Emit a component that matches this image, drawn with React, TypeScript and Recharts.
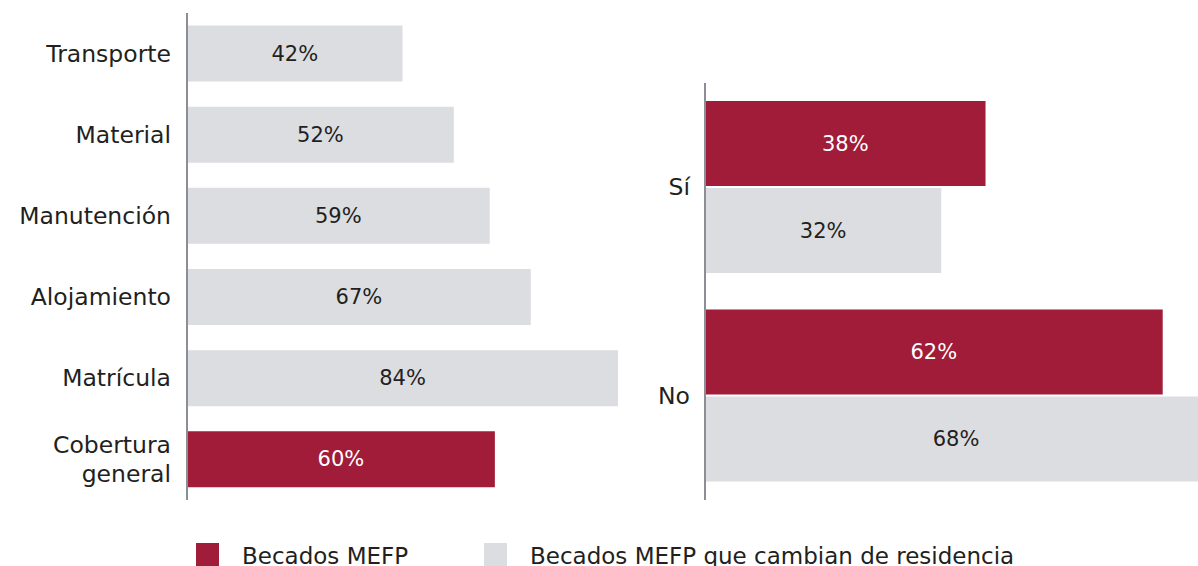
import React from "react";
import { BarChart, Bar, XAxis, YAxis, Cell, LabelList } from "recharts";

const RED = "#a01c38";
const GREY = "#dcdde1";
const AXIS = "#8b8d97";
const TEXT = "#231f20";
const FONT = "'DejaVu Sans', sans-serif";

const costCategories = ["Transporte", "Material", "Manutención", "Alojamiento", "Matrícula", "Cobertura general"];
const costValues = [42, 52, 59, 67, 84, 60];
const costHighlight = [false, false, false, false, false, true];

const residenceCategories = ["Sí", "No"];
const becadosValues = [38, 62];
const cambianValues = [32, 68];

const seriesNames = ["Becados MEFP", "Becados MEFP que cambian de residencia"];
const seriesColors = [RED, GREY];

const leftData = costCategories.map((name, i) => ({ name, value: costValues[i], hl: costHighlight[i] }));
const rightData = residenceCategories.map((name, i) => ({ name, becados: becadosValues[i], cambian: cambianValues[i] }));

const CatTick = (props: any) => {
  const { x, y, payload } = props;
  const words = String(payload.value).split(" ");
  const lines = words.length > 1 && String(payload.value).length > 12 ? words : [payload.value];
  const lh = 29;
  const start = -((lines.length - 1) * lh) / 2;
  return (
    <text x={x} y={y} textAnchor="end" fontFamily={FONT} fontSize={23.5} fill={TEXT}>
      {lines.map((l: string, i: number) => (
        <tspan key={i} x={x} dy={i === 0 ? start + 8 : lh}>
          {l}
        </tspan>
      ))}
    </text>
  );
};

const makeLabel = (colorFn: (index: number) => string) => (props: any) => {
  const { x, y, width, height, value, index } = props;
  return (
    <text
      x={x + width / 2}
      y={y + height / 2}
      dy={7}
      textAnchor="middle"
      fontFamily={FONT}
      fontSize={21}
      fill={colorFn(index)}
    >
      {value}%
    </text>
  );
};

export default function App() {
  return (
    <div style={{ position: "fixed", left: 0, top: 0, width: 1198, height: 566, overflow: "hidden", background: "#fff" }}>
      <div style={{ position: "absolute", left: 0, top: 0 }}>
        <BarChart
          width={620}
          height={500}
          data={leftData}
          layout="vertical"
          margin={{ top: 13, right: 2, bottom: 0, left: 0 }}
          barCategoryGap={12.5}
        >
          <XAxis type="number" domain={[0, 84]} hide />
          <YAxis
            type="category"
            dataKey="name"
            width={187}
            axisLine={{ stroke: AXIS, strokeWidth: 2 }}
            tickLine={false}
            tickSize={0}
            tickMargin={16}
            tick={<CatTick />}
            interval={0}
          />
          <Bar dataKey="value" isAnimationActive={false}>
            {leftData.map((d, i) => (
              <Cell key={i} fill={d.hl ? RED : GREY} />
            ))}
            <LabelList dataKey="value" content={makeLabel((i) => (leftData[i] && leftData[i].hl ? "#fff" : TEXT))} />
          </Bar>
        </BarChart>
      </div>
      <div style={{ position: "absolute", left: 600, top: 0 }}>
        <BarChart
          width={607}
          height={500}
          data={rightData}
          layout="vertical"
          margin={{ top: 83, right: 0, bottom: 0, left: 0 }}
          barCategoryGap={18}
          barGap={2}
        >
          <XAxis type="number" domain={[0, 68]} hide />
          <YAxis
            type="category"
            dataKey="name"
            width={105}
            axisLine={{ stroke: AXIS, strokeWidth: 2 }}
            tickLine={false}
            tickSize={0}
            tickMargin={15}
            tick={<CatTick />}
            interval={0}
          />
          <Bar dataKey="becados" fill={RED} isAnimationActive={false}>
            <LabelList dataKey="becados" content={makeLabel(() => "#fff")} />
          </Bar>
          <Bar dataKey="cambian" fill={GREY} isAnimationActive={false}>
            <LabelList dataKey="cambian" content={makeLabel(() => TEXT)} />
          </Bar>
        </BarChart>
      </div>
      <svg style={{ position: "absolute", left: 0, top: 520 }} width={1198} height={46}>
        {seriesNames.map((n, i) => {
          const lx = i === 0 ? 196 : 484;
          return (
            <g key={n}>
              <rect x={lx} y={23} width={23} height={30} fill={seriesColors[i]} />
              <text x={lx + 46} y={44} fontFamily={FONT} fontSize={23} fill={TEXT}>
                {n}
              </text>
            </g>
          );
        })}
      </svg>
    </div>
  );
}
